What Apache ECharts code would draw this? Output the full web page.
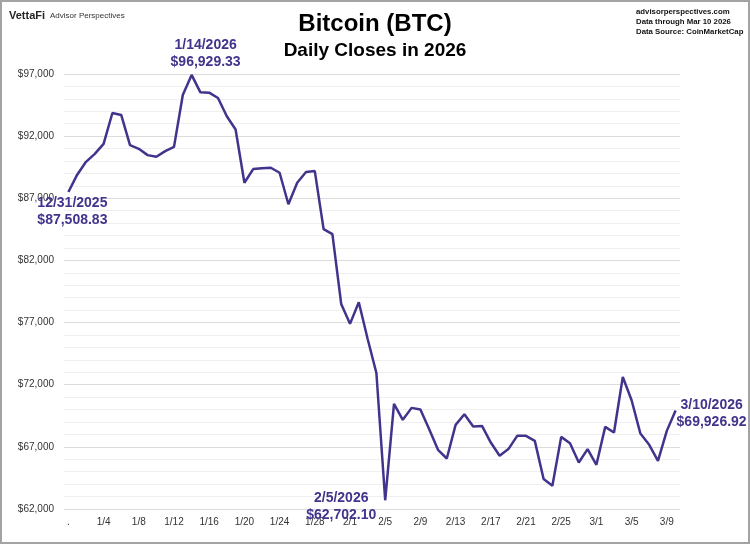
<!DOCTYPE html>
<html>
<head>
<meta charset="utf-8">
<script src="https://cdn.jsdelivr.net/npm/echarts@6/dist/echarts.min.js"></script>
<style>
  html, body { margin: 0; padding: 0; background: #fff; }
  #main { width: 750px; height: 544px; box-sizing: border-box; border: 2px solid #a3a3a3; }
</style>
</head>
<body>
<div id="main"></div>
<script>
// Daily closes, 12/31/2025 .. 3/10/2026
const dates = [
  "12/31",
  "1/1", "1/2", "1/3", "1/4", "1/5", "1/6", "1/7", "1/8", "1/9", "1/10",
  "1/11", "1/12", "1/13", "1/14", "1/15", "1/16", "1/17", "1/18", "1/19", "1/20",
  "1/21", "1/22", "1/23", "1/24", "1/25", "1/26", "1/27", "1/28", "1/29", "1/30", "1/31",
  "2/1", "2/2", "2/3", "2/4", "2/5", "2/6", "2/7", "2/8", "2/9", "2/10",
  "2/11", "2/12", "2/13", "2/14", "2/15", "2/16", "2/17", "2/18", "2/19", "2/20",
  "2/21", "2/22", "2/23", "2/24", "2/25", "2/26", "2/27", "2/28",
  "3/1", "3/2", "3/3", "3/4", "3/5", "3/6", "3/7", "3/8", "3/9", "3/10"
];

const closes = [
  87508.83,
  88900, 89935, 90577, 91379, 93864, 93704, 91274, 90978, 90473, 90336,
  90793, 91138, 95308, 96929.33, 95524, 95500, 95067, 93600, 92533, 88251,
  89350, 89420, 89454, 89053, 86519, 88251, 89109, 89189, 84514, 84113, 78500,
  76896, 78633, 75697, 72940, 62702.10, 70457, 69174, 70136, 70000, 68422,
  66760, 66064, 68767, 69623, 68630, 68687, 67347, 66281, 66818, 67884,
  67884, 67483, 64412, 63874, 67804, 67296, 65741, 66818, 65559,
  68607, 68150, 72617, 70750, 68070, 67162, 65880, 68286, 69926.92
];

// annotated points: date label + value
const calloutIdx = [0, 14, 36, 69];
const calloutDates = ["12/31/2025", "1/14/2026", "2/5/2026", "3/10/2026"];
const calloutOffsets = [[4, 20], [14, -21], [-44, 6], [36, 3]];

const LINE = "#43338c";
const FONT = "Liberation Sans, Arial, sans-serif";

const fmtMoney = (v) => "$" + v.toLocaleString("en-US", { minimumFractionDigits: 2, maximumFractionDigits: 2 });

const chart = echarts.init(document.getElementById("main"));

const option = {
  animation: false,
  textStyle: { fontFamily: FONT },
  title: [
    {
      text: "Bitcoin (BTC)",
      left: "center",
      top: 5,
      textStyle: { fontSize: 24, fontWeight: "bold", color: "#000", fontFamily: FONT }
    },
    {
      text: "Daily Closes in 2026",
      left: "center",
      top: 34,
      textStyle: { fontSize: 19, fontWeight: "bold", color: "#000", fontFamily: FONT }
    }
  ],
  graphic: [
    {
      type: "text",
      left: 7,
      top: 8,
      style: { text: "VettaFi", font: "bold 11px " + FONT, fill: "#222" }
    },
    {
      type: "text",
      left: 48,
      top: 10,
      style: { text: "Advisor Perspectives", font: "8px " + FONT, fill: "#333" }
    },
    {
      type: "text",
      left: 634,
      top: 5,
      style: {
        text: "advisorperspectives.com\nData through Mar 10 2026\nData Source: CoinMarketCap",
        font: "bold 7.8px " + FONT,
        lineHeight: 10,
        fill: "#111"
      }
    }
  ],
  grid: {
    left: 62,
    right: 68,
    top: 72,
    bottom: 33,
    containLabel: false
  },
  xAxis: {
    type: "category",
    data: dates,
    boundaryGap: true,
    axisLine: { show: false },
    axisTick: { show: false },
    axisLabel: {
      interval: 3,
      color: "#333",
      fontSize: 10,
      margin: 8,
      formatter: (v, i) => (i === 0 ? "." : v)
    },
    splitLine: { show: false }
  },
  yAxis: {
    type: "value",
    min: 62000,
    max: 97000,
    interval: 5000,
    axisLine: { show: false },
    axisTick: { show: false },
    axisLabel: {
      color: "#333",
      fontSize: 10,
      margin: 10,
      formatter: (v) => "$" + v.toLocaleString("en-US")
    },
    splitLine: { lineStyle: { color: "#dcdcdc", width: 1 } },
    minorTick: { show: false, splitNumber: 5 },
    minorSplitLine: { show: true, lineStyle: { color: "#efefef", width: 1 } }
  },
  series: [
    {
      type: "line",
      data: closes,
      symbol: "none",
      lineStyle: { color: LINE, width: 2.5 },
      markPoint: {
        symbol: "circle",
        symbolSize: 1,
        itemStyle: { color: "rgba(0,0,0,0)" },
        label: {
          show: true,
          position: "inside",
          color: LINE,
          fontSize: 14,
          fontWeight: "bold",
          lineHeight: 17,
          fontFamily: FONT,
          align: "center"
        },
        data: calloutIdx.map((idx, k) => ({
          coord: [idx, closes[idx]],
          value: closes[idx],
          label: {
            formatter: calloutDates[k] + "\n" + fmtMoney(closes[idx]),
            offset: calloutOffsets[k]
          }
        }))
      }
    }
  ]
};

chart.setOption(option);
</script>
</body>
</html>
